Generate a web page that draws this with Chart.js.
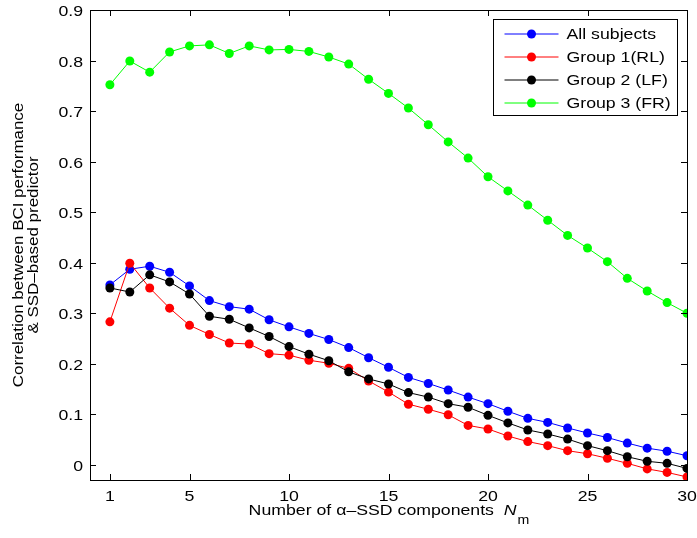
<!DOCTYPE html>
<html>
<head>
<meta charset="utf-8">
<script src="https://cdn.jsdelivr.net/npm/chart.js@4.4.0/dist/chart.umd.min.js"></script>
<style>
  body { margin: 0; background: #fff; }
  #wrap { width: 697px; height: 538px; }
</style>
</head>
<body>
<div id="wrap"><canvas id="miGrafica"></canvas></div>
<script>
const componentes = [1,2,3,4,5,6,7,8,9,10,11,12,13,14,15,16,17,18,19,20,21,22,23,24,25,26,27,28,29,30];
const todos = [0.356,0.387,0.393,0.381,0.354,0.325,0.313,0.308,0.287,0.273,0.260,0.248,0.232,0.212,0.193,0.173,0.161,0.148,0.134,0.121,0.106,0.092,0.084,0.073,0.063,0.054,0.043,0.033,0.027,0.018];
const grupo1 = [0.283,0.399,0.350,0.310,0.276,0.258,0.241,0.239,0.220,0.217,0.207,0.201,0.191,0.166,0.144,0.120,0.110,0.099,0.078,0.071,0.057,0.046,0.038,0.028,0.022,0.013,0.003,-0.008,-0.015,-0.024];
const grupo2 = [0.350,0.342,0.376,0.362,0.338,0.294,0.288,0.271,0.254,0.234,0.219,0.206,0.184,0.170,0.160,0.143,0.134,0.121,0.114,0.098,0.083,0.069,0.061,0.051,0.038,0.028,0.016,0.007,0.003,-0.007];
const grupo3 = [0.752,0.799,0.777,0.817,0.829,0.831,0.814,0.829,0.821,0.822,0.818,0.807,0.793,0.763,0.735,0.706,0.673,0.639,0.607,0.570,0.542,0.514,0.484,0.454,0.429,0.402,0.369,0.344,0.321,0.300];
const etiquetas = ["All subjects", "Group 1(RL)", "Group 2 (LF)", "Group 3 (FR)"];
const colores = ["#0000ff", "#ff0000", "#000000", "#00ff00"];
const ticksX = [1, 5, 10, 15, 20, 25, 30];
const ticksY = [0, 0.1, 0.2, 0.3, 0.4, 0.5, 0.6, 0.7, 0.8, 0.9];

const fuente = "'Liberation Sans', Arial, sans-serif";
const estirar = 1.18; // el texto del original es mas ancho que Arial

function serie(valores, i) {
    return {
        label: etiquetas[i],
        data: componentes.map((x, k) => ({ x: x, y: valores[k] })),
        borderColor: colores[i],
        backgroundColor: colores[i],
        pointBackgroundColor: colores[i],
        pointBorderColor: colores[i],
        pointBorderWidth: 0,
        pointRadius: 4.5,
        borderWidth: 1,
        tension: 0,
        order: 3 - i
    };
}

function etiquetaY(v) {
    return v === 0 ? "0" : v.toFixed(1);
}

// texto ensanchado horizontalmente
function texto(ctx, str, x, y, align) {
    ctx.save();
    ctx.translate(x, y);
    ctx.scale(estirar, 1);
    ctx.textAlign = align;
    ctx.fillText(str, 0, 0);
    ctx.restore();
}

// marco, ticks hacia adentro, etiquetas, leyenda y titulos de ejes
const extras = {
    id: "extras",
    afterDraw(chart) {
        const ctx = chart.ctx;
        const a = chart.chartArea;
        const sx = chart.scales.x, sy = chart.scales.y;
        ctx.save();
        ctx.strokeStyle = "#000";
        ctx.lineWidth = 1;
        ctx.strokeRect(Math.round(a.left) + 0.5, Math.round(a.top) + 0.5,
            Math.round(a.right - a.left), Math.round(a.bottom - a.top));
        const largo = 6;
        ctx.beginPath();
        sx.ticks.forEach(t => {
            const px = Math.round(sx.getPixelForValue(t.value)) + 0.5;
            ctx.moveTo(px, a.bottom); ctx.lineTo(px, a.bottom - largo);
            ctx.moveTo(px, a.top); ctx.lineTo(px, a.top + largo);
        });
        sy.ticks.forEach(t => {
            const py = Math.round(sy.getPixelForValue(t.value)) + 0.5;
            ctx.moveTo(a.left, py); ctx.lineTo(a.left + largo, py);
            ctx.moveTo(a.right, py); ctx.lineTo(a.right - largo, py);
        });
        ctx.stroke();

        // etiquetas de los ejes
        ctx.fillStyle = "#000";
        ctx.font = "15px " + fuente;
        ctx.textBaseline = "middle";
        sx.ticks.forEach(t => {
            texto(ctx, String(t.value), sx.getPixelForValue(t.value), a.bottom + 17, "center");
        });
        sy.ticks.forEach(t => {
            texto(ctx, etiquetaY(t.value), a.left - 7, sy.getPixelForValue(t.value) + 2, "right");
        });

        // leyenda
        const lx = Math.round(a.right) - 193.5, ly = Math.round(a.top) + 9.5;
        const lw = 184, lh = 96;
        ctx.fillStyle = "#fff";
        ctx.fillRect(lx, ly, lw, lh);
        ctx.strokeRect(lx, ly, lw, lh);
        etiquetas.forEach((t, i) => {
            const y = ly + 14.5 + i * 23;
            ctx.strokeStyle = colores[i];
            ctx.beginPath();
            ctx.moveTo(lx + 11, y); ctx.lineTo(lx + 65, y);
            ctx.stroke();
            ctx.fillStyle = colores[i];
            ctx.beginPath();
            ctx.arc(lx + 38, y, 4.5, 0, Math.PI * 2);
            ctx.fill();
            ctx.fillStyle = "#000";
            ctx.font = "15px " + fuente;
            texto(ctx, t, lx + 73, y + 1, "left");
        });

        // titulo eje y
        ctx.fillStyle = "#000";
        ctx.font = "15px " + fuente;
        ctx.save();
        ctx.translate(19, (a.top + a.bottom) / 2);
        ctx.rotate(-Math.PI / 2);
        ctx.scale(1.13, 1);
        ctx.textAlign = "center";
        ctx.fillText("Correlation between BCI performance", 0, 0);
        ctx.fillText("& SSD\u2013based predictor", 0, 15 / 1);
        ctx.restore();

        // titulo eje x con N subindice m
        const t1 = "Number of \u03b1\u2013SSD components  ";
        ctx.font = "15px " + fuente;
        const w1 = ctx.measureText(t1).width * estirar;
        ctx.font = "italic 15px " + fuente;
        const w2 = ctx.measureText("N").width * estirar;
        ctx.font = "12px " + fuente;
        const w3 = ctx.measureText("m").width * estirar;
        const x0 = (a.left + a.right) / 2 - (w1 + w2 + w3) / 2;
        const base = 515;
        ctx.textBaseline = "alphabetic";
        ctx.font = "15px " + fuente;
        texto(ctx, t1, x0, base, "left");
        ctx.font = "italic 15px " + fuente;
        texto(ctx, "N", x0 + w1, base, "left");
        ctx.font = "12px " + fuente;
        texto(ctx, "m", x0 + w1 + w2 + 1, base + 9, "left");
        ctx.restore();
    }
};

new Chart(document.getElementById("miGrafica").getContext("2d"), {
    type: "line",
    data: {
        datasets: [serie(todos, 0), serie(grupo1, 1), serie(grupo2, 2), serie(grupo3, 3)]
    },
    options: {
        responsive: true,
        maintainAspectRatio: false,
        animation: false,
        layout: { padding: { top: 10, right: 10, left: 0, bottom: 0 } },
        plugins: {
            legend: { display: false },
            tooltip: { enabled: false }
        },
        scales: {
            x: {
                type: "linear",
                min: 0,
                max: 30,
                grid: { display: false, drawTicks: false },
                border: { display: false },
                afterBuildTicks: s => { s.ticks = ticksX.map(v => ({ value: v })); },
                afterFit: s => { s.height = 58; s.paddingLeft = 0; s.paddingRight = 0; },
                ticks: { display: false }
            },
            y: {
                min: -0.03,
                max: 0.9,
                grid: { display: false, drawTicks: false },
                border: { display: false },
                afterBuildTicks: s => { s.ticks = ticksY.map(v => ({ value: v })); },
                afterFit: s => { s.width = 90; s.paddingTop = 0; s.paddingBottom = 0; },
                ticks: { display: false, callback: etiquetaY }
            }
        }
    },
    plugins: [extras]
});
</script>
</body>
</html>
